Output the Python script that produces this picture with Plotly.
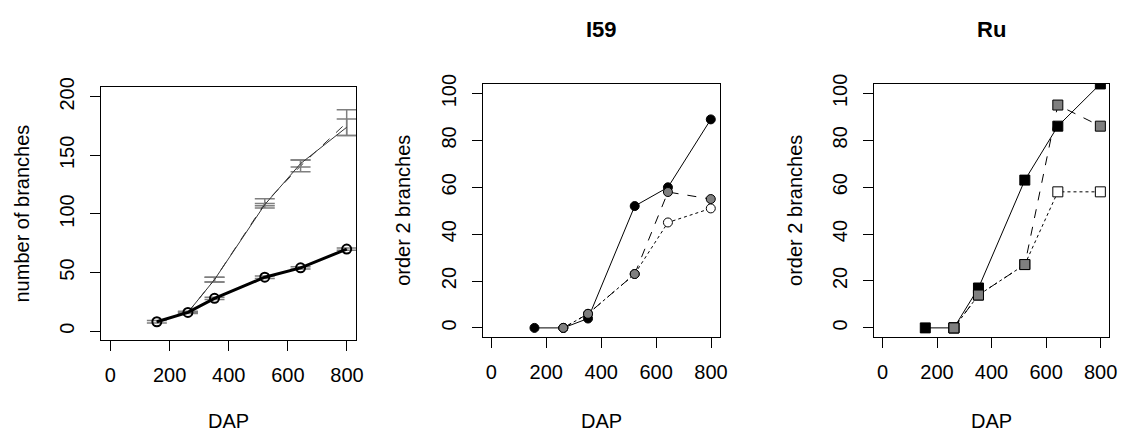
import plotly.graph_objects as go

# ---------------- data ----------------
dap = [157, 262, 352, 522, 643, 799]

# panel 1: number of branches
total_thick = [8, 16, 28, 46, 54, 70]
total_thick_err = [1, 1, 1, 1, 1, 1]
total_a = [None, 16, 44, 109, 141, 178]   # dashed
total_a_err = [0, 0.5, 2, 4, 5, 11]
total_b = [None, 16, 44, 108, 143, 174]   # solid
total_b_err = [0, 0.5, 2, 1, 3, 7]

# panel 2: I59 order 2 branches
i59_black = [0, 0, 4, 52, 60, 89]
i59_white = [None, 0, 6, 23, 45, 51]
i59_grey = [None, 0, 6, 23, 58, 55]

# panel 3: Ru order 2 branches
ru_black = [0, 0, 17, 63, 86, 104]
ru_white = [None, 0, 14, 27, 58, 58]
ru_grey = [None, 0, 14, 27, 95, 86]

x_ticks = [0, 200, 400, 600, 800]
y1_ticks = [0, 50, 100, 150, 200]
y23_ticks = [0, 20, 40, 60, 80, 100]
titles = ["", "I59", "Ru"]
ylabels = ["number of branches", "order 2 branches", "order 2 branches"]
xlabel = "DAP"

# ---------------- figure ----------------
W, H = 1126, 433
FONT = "Liberation Sans, Arial, sans-serif"
GREY = "#7f7f7f"

fig = go.Figure()

err_style = dict(type="data", color=GREY, thickness=1.5, width=10, visible=True)

fig.add_trace(go.Scatter(x=dap, y=total_a, mode="lines", xaxis="x", yaxis="y",
                         line=dict(color="#333333", width=1, dash="dash"),
                         error_y=dict(array=total_a_err, **err_style)))
fig.add_trace(go.Scatter(x=dap, y=total_b, mode="lines", xaxis="x", yaxis="y",
                         line=dict(color="#333333", width=1),
                         error_y=dict(array=total_b_err, **err_style)))
fig.add_trace(go.Scatter(x=dap, y=total_thick, mode="lines+markers", xaxis="x", yaxis="y",
                         line=dict(color="black", width=3),
                         marker=dict(symbol="circle-open", size=9, color="black", line=dict(width=2)),
                         error_y=dict(array=total_thick_err, **err_style)))

def add_series(vals, ax, ay, symbol, fill, dash):
    fig.add_trace(go.Scatter(x=dap, y=vals, mode="lines+markers", xaxis=ax, yaxis=ay,
                             line=dict(color="black", width=1, dash=dash),
                             marker=dict(symbol=symbol, size=9 if symbol == "circle" else 10,
                                         color=fill, line=dict(color="black", width=1))))

add_series(i59_black, "x2", "y2", "circle", "black", "solid")
add_series(i59_white, "x2", "y2", "circle", "white", "dot")
add_series(i59_grey, "x2", "y2", "circle", GREY, "dash")

add_series(ru_black, "x3", "y3", "square", "black", "solid")
add_series(ru_white, "x3", "y3", "square", "white", "dot")
add_series(ru_grey, "x3", "y3", "square", GREY, "dash")

# panel boxes in pixels: (left, right, top, bottom)
boxes = [(101.7, 359.0, 79.3, 338.3), (486.0, 725.0, 76.0, 335.0), (880.0, 1117.3, 75.7, 335.0)]

common_axis = dict(showline=True, mirror=True, linecolor="black", linewidth=1,
                   ticks="outside", ticklen=10, tickwidth=1, tickcolor="black",
                   showgrid=False, zeroline=False,
                   tickfont=dict(family=FONT, size=20, color="black"))

layout = dict(width=W, height=H, margin=dict(l=0, r=0, t=0, b=0),
              paper_bgcolor="white", plot_bgcolor="white", showlegend=False,
              font=dict(family=FONT, color="black"))
annotations = []
for i, (l, r, t, b) in enumerate(boxes):
    sfx = "" if i == 0 else str(i + 1)
    layout["xaxis" + sfx] = dict(domain=[l / W, r / W], range=[-32, 832], tickvals=x_ticks,
                                 anchor="y" + sfx, ticklabelstandoff=7, **common_axis)
    yticks = y1_ticks if i == 0 else y23_ticks
    yr = [-8, 208] if i == 0 else [-4, 104]
    layout["yaxis" + sfx] = dict(domain=[1 - b / H, 1 - t / H], range=yr, tickvals=yticks,
                                 anchor="x" + sfx, tickangle=-90, ticklabelstandoff=8, **common_axis)
    cx = (l + r) / 2 / W
    annotations.append(dict(text=xlabel, x=cx, y=0, xref="paper", yref="paper",
                            showarrow=False, font=dict(family=FONT, size=20), borderpad=0,
                            xanchor="center", yanchor="bottom"))
    annotations.append(dict(text=ylabels[i], x=(l - 80) / W, y=1 - ((t + b) / 2) / H, xref="paper", yref="paper",
                            showarrow=False, textangle=-90, font=dict(family=FONT, size=20),
                            xanchor="center", yanchor="middle"))
    if titles[i]:
        annotations.append(dict(text="<b>%s</b>" % titles[i], x=cx, y=1 - 20 / H, xref="paper", yref="paper",
                                showarrow=False, font=dict(family=FONT, size=22), xanchor="center", yanchor="middle"))
layout["annotations"] = annotations
fig.update_layout(**layout)

fig.write_html("out.html")
